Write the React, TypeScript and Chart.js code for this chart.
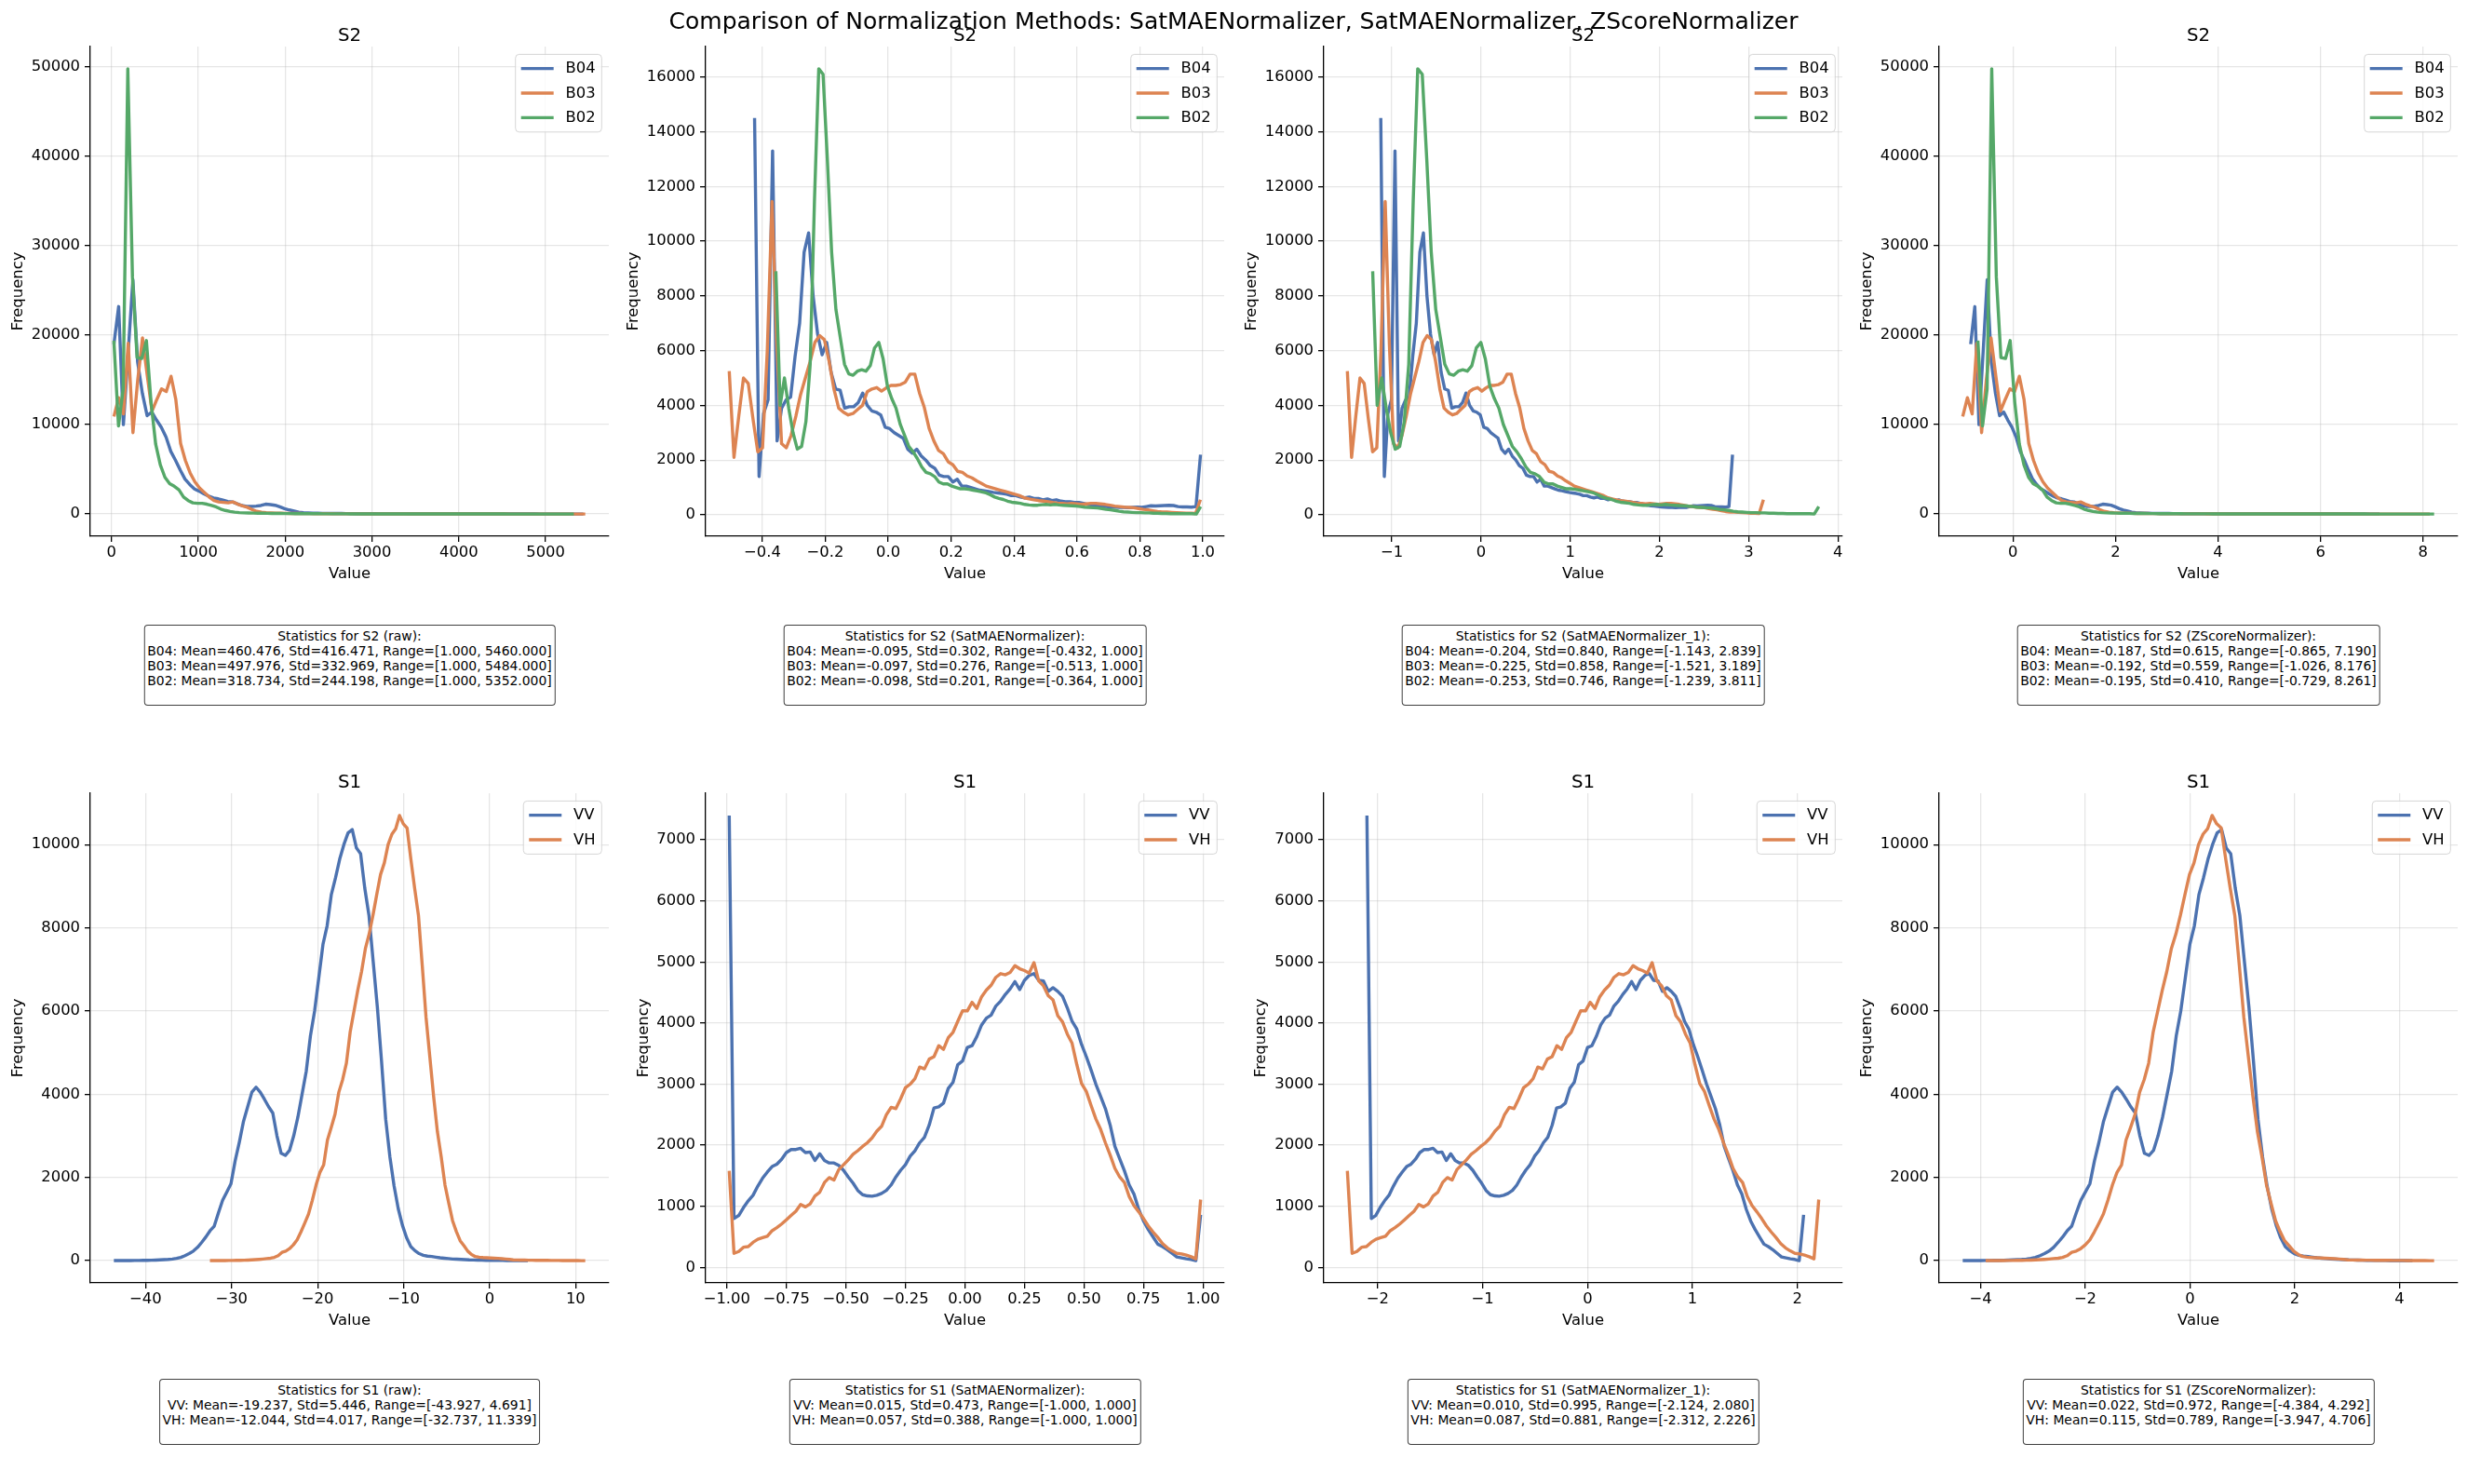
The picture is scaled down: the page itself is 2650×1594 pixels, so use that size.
import React, { useEffect, useRef } from 'react';
import { Chart, registerables } from 'chart.js';

Chart.register(...registerables);

const FONT = '"DejaVu Sans", "Noto Sans", sans-serif';
const BLUE = '#4C72B0';
const ORANGE = '#DD8452';
const GREEN = '#55A868';
const GRID = 'rgba(176,176,176,0.32)';

const SUPTITLE = 'Comparison of Normalization Methods: SatMAENormalizer, SatMAENormalizer, ZScoreNormalizer';

const S2_BANDS = ['B04', 'B03', 'B02'];
const S2_COLORS = [BLUE, ORANGE, GREEN];
const S1_BANDS = ['VV', 'VH'];
const S1_COLORS = [BLUE, ORANGE];

// ---- histogram counts (100 equal-width bins between each band's min and max) ----

// Sentinel-2, raw reflectance (the z-scored version shares these bins)
const S2_RAW_B04 = [
  19000, 23200, 10000, 18000, 26200, 17000, 13500, 11000, 11400, 10500,
  9700, 8600, 7000, 6000, 4900, 3900, 3300, 2800, 2550, 2250,
  2000, 1800, 1700, 1550, 1400, 1350, 1150, 950, 850, 850,
  880, 950, 1100, 1050, 980, 800, 600, 450, 330, 200,
  150, 120, 100, 90, 80, 72, 66, 60, 55, 50,
  46, 42, 39, 36, 33, 30, 28, 26, 24, 22,
  20, 19, 18, 17, 16, 15, 14, 13, 12, 11,
  10, 10, 9, 9, 8, 8, 7, 7, 6, 6,
  5, 5, 5, 4, 4, 4, 3, 3, 3, 3,
  2, 2, 2, 2, 2, 1, 1, 1, 1, 1,
];
const S2_RAW_B03 = [
  10900, 13000, 11200, 19100, 9100, 15000, 19700, 15500, 11500, 12800,
  14000, 13700, 15400, 12800, 7900, 6000, 4600, 3600, 2900, 2400,
  1900, 1500, 1350, 1300, 1250, 1350, 1100, 900, 750, 500,
  300, 200, 150, 120, 100, 90, 80, 70, 64, 58,
  52, 47, 43, 39, 35, 32, 29, 27, 25, 23,
  21, 19, 18, 17, 16, 15, 14, 13, 12, 11,
  10, 10, 9, 9, 8, 8, 7, 7, 6, 6,
  6, 5, 5, 5, 4, 4, 4, 4, 3, 3,
  3, 3, 3, 2, 2, 2, 2, 2, 2, 2,
  1, 1, 1, 1, 1, 1, 1, 1, 1, 1,
];
const S2_RAW_B02 = [
  19400, 9850, 14000, 49800, 26500, 17500, 17400, 19400, 12500, 7800,
  5500, 4100, 3400, 3100, 2700, 1900, 1500, 1250, 1200, 1200,
  1100, 950, 800, 550, 400, 280, 200, 150, 130, 110,
  100, 90, 82, 75, 68, 62, 57, 52, 48, 44,
  40, 37, 34, 31, 29, 27, 25, 23, 21, 20,
  19, 18, 17, 16, 15, 14, 13, 12, 11, 11,
  10, 10, 9, 9, 8, 8, 7, 7, 7, 6,
  6, 6, 5, 5, 5, 5, 4, 4, 4, 4,
  3, 3, 3, 3, 3, 2, 2, 2, 2, 2,
  2, 2, 1, 1, 1, 1, 1, 1, 1, 1,
];

// Sentinel-2, SatMAE-normalized (the _1 variant shares these bins)
const S2_SAT_B04 = [
  14500, 1400, 3700, 4200, 13300, 2700, 3900, 4200, 4300, 5800,
  7000, 9600, 10300, 8000, 6600, 5850, 6300, 5200, 4600, 4550,
  3900, 3950, 3950, 4100, 4450, 4000, 3800, 3750, 3650, 3200,
  3150, 3000, 2900, 2800, 2400, 2250, 2400, 2150, 2000, 1800,
  1700, 1450, 1400, 1400, 1200, 1300, 1050, 1050, 1000, 950,
  900, 880, 850, 820, 800, 780, 750, 700, 700, 650,
  620, 650, 600, 600, 550, 580, 520, 550, 500, 480,
  480, 450, 450, 420, 380, 350, 330, 320, 300, 290,
  280, 270, 270, 260, 270, 280, 270, 300, 330, 320,
  330, 340, 350, 340, 300, 290, 290, 280, 300, 2200,
];
const S2_SAT_B03 = [
  5250, 2100, 3600, 5000, 4800, 3500, 2300, 2450, 6000, 11450,
  6200, 2600, 2450, 2900, 3600, 4400, 5000, 5600, 6300, 6550,
  6400, 5600, 4600, 3900, 3750, 3650, 3700, 3850, 4000, 4500,
  4600, 4650, 4520, 4640, 4730, 4730, 4760, 4850, 5140, 5140,
  4440, 3920, 3160, 2700, 2350, 2230, 1940, 1830, 1590, 1550,
  1420, 1350, 1240, 1150, 1050, 1000, 950, 900, 850, 800,
  750, 700, 620, 580, 550, 520, 500, 480, 450, 430,
  420, 400, 420, 400, 380, 400, 420, 420, 400, 380,
  350, 320, 300, 280, 270, 260, 230, 200, 180, 150,
  120, 100, 100, 90, 80, 70, 60, 60, 50, 550,
];
const S2_SAT_B02 = [
  8900, 4000, 5000, 3900, 3000, 2400, 2500, 3400, 5500, 11500,
  16300, 16100, 13000, 9600, 7500, 6500, 5500, 5150, 5100, 5250,
  5300, 5250, 5450, 6100, 6300, 5700, 4700, 4250, 3900, 3300,
  2900, 2500, 2300, 2050, 1750, 1550, 1500, 1400, 1200, 1130,
  1130, 1050, 1000, 950, 950, 930, 900, 870, 840, 800,
  730, 650, 600, 560, 500, 460, 440, 420, 380, 360,
  350, 350, 370, 380, 360, 380, 360, 350, 340, 330,
  320, 300, 280, 270, 260, 250, 230, 200, 180, 160,
  130, 110, 100, 90, 80, 80, 70, 70, 60, 60,
  50, 50, 40, 40, 40, 40, 40, 40, 30, 300,
];

// Sentinel-1, raw backscatter in dB (the z-scored version shares these bins)
const S1_RAW_VV = [
  2, 2, 3, 3, 4, 5, 6, 8, 10, 12,
  15, 20, 25, 30, 40, 55, 80, 120, 170, 230,
  320, 440, 570, 720, 830, 1150, 1450, 1650, 1850, 2400,
  2850, 3350, 3700, 4050, 4170, 4050, 3880, 3700, 3550, 3000,
  2580, 2530, 2650, 3000, 3450, 4000, 4550, 5400, 6000, 6800,
  7600, 8050, 8800, 9200, 9650, 10000, 10280, 10360, 9920, 9780,
  8950, 8300, 7200, 6100, 4800, 3400, 2500, 1800, 1250, 850,
  550, 340, 240, 170, 130, 110, 100, 85, 70, 60,
  50, 40, 35, 30, 25, 20, 18, 15, 12, 10,
  8, 7, 6, 5, 4, 3, 3, 2, 2, 1,
];
const S1_RAW_VH = [
  2, 2, 3, 3, 4, 5, 6, 8, 10, 12,
  15, 20, 25, 32, 40, 50, 60, 80, 120, 200,
  230, 290, 380, 500, 690, 900, 1120, 1450, 1820, 2120,
  2300, 2900, 3200, 3520, 4050, 4350, 4750, 5500, 6000, 6500,
  6950, 7500, 7850, 8300, 8800, 9280, 9560, 10000, 10250, 10380,
  10700, 10500, 10400, 9650, 8950, 8300, 7100, 5850, 4900, 3950,
  3100, 2500, 1820, 1380, 960, 700, 480, 360, 230, 150,
  100, 85, 75, 70, 65, 60, 55, 48, 40, 30,
  20, 17, 15, 13, 12, 11, 10, 9, 8, 7,
  6, 5, 5, 4, 3, 3, 2, 2, 1, 1,
];

// Sentinel-1, SatMAE-normalized (the _1 variant shares these bins)
const S1_SAT_VV = [
  7400, 800, 850, 980, 1090, 1180, 1330, 1460, 1560, 1650,
  1690, 1770, 1880, 1930, 1930, 1950, 1880, 1890, 1750, 1860,
  1750, 1710, 1710, 1670, 1590, 1480, 1380, 1260, 1190, 1170,
  1165, 1180, 1210, 1260, 1350, 1480, 1590, 1680, 1820, 1910,
  2040, 2130, 2330, 2610, 2630, 2690, 2930, 3030, 3320, 3380,
  3600, 3630, 3780, 3970, 4080, 4130, 4280, 4360, 4470, 4560,
  4680, 4550, 4700, 4780, 4810, 4700, 4690, 4520, 4580, 4520,
  4440, 4250, 4030, 3900, 3650, 3450, 3230, 3000, 2800, 2600,
  2330, 1980, 1780, 1580, 1350, 1200, 950, 760, 620, 500,
  380, 340, 290, 230, 170, 155, 140, 130, 110, 860,
];
const S1_SAT_VH = [
  1580, 230, 260, 330, 340, 410, 460, 485, 510, 600,
  650, 710, 780, 850, 920, 1030, 990, 1040, 1170, 1230,
  1390, 1470, 1430, 1600, 1680, 1760, 1850, 1910, 1980, 2040,
  2120, 2230, 2310, 2500, 2620, 2600, 2760, 2940, 3000, 3090,
  3280, 3250, 3410, 3450, 3630, 3570, 3760, 3850, 4030, 4200,
  4200, 4340, 4240, 4430, 4540, 4620, 4750, 4810, 4790, 4830,
  4940, 4890, 4860, 4820, 4990, 4690, 4610, 4450, 4380, 4120,
  4020, 3820, 3670, 3320, 3010, 2880, 2650, 2430, 2260, 2040,
  1840, 1620, 1480, 1390, 1160, 1010, 910, 800, 680, 580,
  490, 390, 320, 270, 230, 220, 200, 175, 140, 1110,
];

// ---- per-band statistics: [mean, std, min, max] ----
const S2_RAW_STATS = [
  [460.476, 416.471, 1.0, 5460.0],
  [497.976, 332.969, 1.0, 5484.0],
  [318.734, 244.198, 1.0, 5352.0],
];
const S2_SAT_STATS = [
  [-0.095, 0.302, -0.432, 1.0],
  [-0.097, 0.276, -0.513, 1.0],
  [-0.098, 0.201, -0.364, 1.0],
];
const S2_SAT1_STATS = [
  [-0.204, 0.84, -1.143, 2.839],
  [-0.225, 0.858, -1.521, 3.189],
  [-0.253, 0.746, -1.239, 3.811],
];
const S2_Z_STATS = [
  [-0.187, 0.615, -0.865, 7.19],
  [-0.192, 0.559, -1.026, 8.176],
  [-0.195, 0.41, -0.729, 8.261],
];
const S1_RAW_STATS = [
  [-19.237, 5.446, -43.927, 4.691],
  [-12.044, 4.017, -32.737, 11.339],
];
const S1_SAT_STATS = [
  [0.015, 0.473, -1.0, 1.0],
  [0.057, 0.388, -1.0, 1.0],
];
const S1_SAT1_STATS = [
  [0.01, 0.995, -2.124, 2.08],
  [0.087, 0.881, -2.312, 2.226],
];
const S1_Z_STATS = [
  [0.022, 0.972, -4.384, 4.292],
  [0.115, 0.789, -3.947, 4.706],
];

// ---- tick labels ----
const S2_RAW_XTICKS = ['0', '1000', '2000', '3000', '4000', '5000'];
const S2_SAT_XTICKS = ['\u22120.4', '\u22120.2', '0.0', '0.2', '0.4', '0.6', '0.8', '1.0'];
const S2_SAT1_XTICKS = ['\u22121', '0', '1', '2', '3', '4'];
const S2_Z_XTICKS = ['0', '2', '4', '6', '8'];
const S2_RAW_YTICKS = ['0', '10000', '20000', '30000', '40000', '50000'];
const S2_SAT_YTICKS = ['0', '2000', '4000', '6000', '8000', '10000', '12000', '14000', '16000'];
const S1_RAW_XTICKS = ['\u221240', '\u221230', '\u221220', '\u221210', '0', '10'];
const S1_SAT_XTICKS = ['\u22121.00', '\u22120.75', '\u22120.50', '\u22120.25', '0.00', '0.25', '0.50', '0.75', '1.00'];
const S1_SAT1_XTICKS = ['\u22122', '\u22121', '0', '1', '2'];
const S1_Z_XTICKS = ['\u22124', '\u22122', '0', '2', '4'];
const S1_RAW_YTICKS = ['0', '2000', '4000', '6000', '8000', '10000'];
const S1_SAT_YTICKS = ['0', '1000', '2000', '3000', '4000', '5000', '6000', '7000'];

// ---- layout (pixels) ----
const FIG_W = 2650;
const FIG_H = 1594;
const AX_LEFT = [97, 758, 1422, 2083];
const AX_W = 557;
const AX_TOP = [50, 852];
const AX_H = 526;
const YLABEL_GAP = [
  [77, 77, 77, 77],
  [77, 66, 67, 77],
];
const STATS_TOP = [671, 1481];
const PAD_T = 40;
const PAD_R = 12;
const X_AXIS_H = 51;
const TICK_SIZE = 16.4;
const TITLE_SIZE = 19.8;

type PanelDef = {
  row: number;
  col: number;
  sensor: string;
  method: string;
  bands: string[];
  colors: string[];
  counts: number[][];
  stats: number[][];
  xTicks: string[];
  yTicks: string[];
};

const PANELS: PanelDef[] = [
  { row: 0, col: 0, sensor: 'S2', method: 'raw', bands: S2_BANDS, colors: S2_COLORS,
    counts: [S2_RAW_B04, S2_RAW_B03, S2_RAW_B02], stats: S2_RAW_STATS, xTicks: S2_RAW_XTICKS, yTicks: S2_RAW_YTICKS },
  { row: 0, col: 1, sensor: 'S2', method: 'SatMAENormalizer', bands: S2_BANDS, colors: S2_COLORS,
    counts: [S2_SAT_B04, S2_SAT_B03, S2_SAT_B02], stats: S2_SAT_STATS, xTicks: S2_SAT_XTICKS, yTicks: S2_SAT_YTICKS },
  { row: 0, col: 2, sensor: 'S2', method: 'SatMAENormalizer_1', bands: S2_BANDS, colors: S2_COLORS,
    counts: [S2_SAT_B04, S2_SAT_B03, S2_SAT_B02], stats: S2_SAT1_STATS, xTicks: S2_SAT1_XTICKS, yTicks: S2_SAT_YTICKS },
  { row: 0, col: 3, sensor: 'S2', method: 'ZScoreNormalizer', bands: S2_BANDS, colors: S2_COLORS,
    counts: [S2_RAW_B04, S2_RAW_B03, S2_RAW_B02], stats: S2_Z_STATS, xTicks: S2_Z_XTICKS, yTicks: S2_RAW_YTICKS },
  { row: 1, col: 0, sensor: 'S1', method: 'raw', bands: S1_BANDS, colors: S1_COLORS,
    counts: [S1_RAW_VV, S1_RAW_VH], stats: S1_RAW_STATS, xTicks: S1_RAW_XTICKS, yTicks: S1_RAW_YTICKS },
  { row: 1, col: 1, sensor: 'S1', method: 'SatMAENormalizer', bands: S1_BANDS, colors: S1_COLORS,
    counts: [S1_SAT_VV, S1_SAT_VH], stats: S1_SAT_STATS, xTicks: S1_SAT_XTICKS, yTicks: S1_SAT_YTICKS },
  { row: 1, col: 2, sensor: 'S1', method: 'SatMAENormalizer_1', bands: S1_BANDS, colors: S1_COLORS,
    counts: [S1_SAT_VV, S1_SAT_VH], stats: S1_SAT1_STATS, xTicks: S1_SAT1_XTICKS, yTicks: S1_SAT_YTICKS },
  { row: 1, col: 3, sensor: 'S1', method: 'ZScoreNormalizer', bands: S1_BANDS, colors: S1_COLORS,
    counts: [S1_RAW_VV, S1_RAW_VH], stats: S1_Z_STATS, xTicks: S1_Z_XTICKS, yTicks: S1_RAW_YTICKS },
];

const tickValue = (s: string) => parseFloat(s.replace('\u2212', '-'));

// Draws the panel title and an in-axes legend in the upper right corner.
const panelDecor = {
  id: 'panelDecor',
  afterDraw(chart: any, _args: any, opts: any) {
    const { ctx, chartArea } = chart;
    ctx.save();
    ctx.fillStyle = '#000';
    ctx.font = `${TITLE_SIZE}px ${FONT}`;
    ctx.textAlign = 'center';
    ctx.textBaseline = 'alphabetic';
    ctx.fillText(opts.title, (chartArea.left + chartArea.right) / 2, chartArea.top - 6);

    const items: { name: string; color: string }[] = opts.items;
    ctx.font = `${TICK_SIZE}px ${FONT}`;
    const textW = Math.max(...items.map((it) => ctx.measureText(it.name).width));
    const boxW = 6 + 35 + 12.8 + textW + 6.7;
    const boxH = 30.6 + (items.length - 1) * 26.4;
    const x0 = chartArea.right - 7.7 - boxW;
    const y0 = chartArea.top + 8.4;
    ctx.beginPath();
    ctx.roundRect(x0, y0, boxW, boxH, 4);
    ctx.fillStyle = 'rgba(255,255,255,0.8)';
    ctx.fill();
    ctx.lineWidth = 1;
    ctx.strokeStyle = 'rgba(204,204,204,0.8)';
    ctx.stroke();
    items.forEach((it, i) => {
      const cy = y0 + 15.2 + i * 26.4;
      ctx.beginPath();
      ctx.moveTo(x0 + 6, cy);
      ctx.lineTo(x0 + 41, cy);
      ctx.strokeStyle = it.color;
      ctx.lineWidth = 3.4;
      ctx.stroke();
      ctx.fillStyle = '#000';
      ctx.textAlign = 'left';
      ctx.textBaseline = 'middle';
      ctx.fillText(it.name, x0 + 53.8, cy + 0.5);
    });
    ctx.restore();
  },
};

function buildConfig(p: PanelDef, yAxisW: number): any {
  let xMin = Infinity;
  let xMax = -Infinity;
  let yMin = Infinity;
  let yMax = -Infinity;
  const datasets = p.counts.map((counts, k) => {
    const lo = p.stats[k][2];
    const hi = p.stats[k][3];
    const w = (hi - lo) / counts.length;
    const data = counts.map((c, i) => ({ x: lo + (i + 0.5) * w, y: c }));
    data.forEach((d) => {
      xMin = Math.min(xMin, d.x);
      xMax = Math.max(xMax, d.x);
      yMin = Math.min(yMin, d.y);
      yMax = Math.max(yMax, d.y);
    });
    return {
      label: p.bands[k],
      data,
      borderColor: p.colors[k],
      backgroundColor: p.colors[k],
      borderWidth: 3.4,
      borderJoinStyle: 'round',
      borderCapStyle: 'butt',
      pointRadius: 0,
      pointHoverRadius: 0,
      tension: 0,
      fill: false,
      order: p.counts.length - k,
    };
  });
  const xPad = 0.05 * (xMax - xMin);
  const yPad = 0.05 * (yMax - yMin);
  const xVals = p.xTicks.map(tickValue);
  const yVals = p.yTicks.map(tickValue);
  const tickFont = { family: FONT, size: TICK_SIZE, lineHeight: 1.2 };
  const gridOpts = {
    display: true,
    color: GRID,
    lineWidth: 1.3,
    drawTicks: true,
    tickLength: 6,
    tickColor: '#000',
    tickWidth: 1.3,
  };

  return {
    type: 'line',
    data: { datasets },
    options: {
      animation: false,
      responsive: false,
      maintainAspectRatio: false,
      devicePixelRatio: 1,
      events: [],
      layout: { padding: { top: PAD_T, right: PAD_R, left: 0, bottom: 0 } },
      plugins: {
        legend: { display: false },
        title: { display: false },
        tooltip: { enabled: false },
        panelDecor: {
          title: p.sensor,
          items: p.bands.map((b, i) => ({ name: b, color: p.colors[i] })),
        },
      },
      scales: {
        x: {
          type: 'linear',
          position: 'bottom',
          bounds: 'data',
          min: xMin - xPad,
          max: xMax + xPad,
          afterBuildTicks: (s: any) => {
            s.ticks = xVals.map((v) => ({ value: v }));
          },
          afterFit: (s: any) => {
            s.height = X_AXIS_H;
            s.paddingLeft = 0;
            s.paddingRight = 0;
          },
          ticks: {
            autoSkip: false,
            maxRotation: 0,
            minRotation: 0,
            padding: 2,
            color: '#000',
            font: tickFont,
            callback: (_v: any, i: number) => p.xTicks[i],
          },
          grid: gridOpts,
          border: { display: true, color: '#000', width: 1.3 },
          title: {
            display: true,
            text: 'Value',
            color: '#000',
            font: { family: FONT, size: TICK_SIZE, lineHeight: 1.2 },
            padding: { top: 0, bottom: 0 },
          },
        },
        y: {
          type: 'linear',
          position: 'left',
          bounds: 'data',
          min: yMin - yPad,
          max: yMax + yPad,
          afterBuildTicks: (s: any) => {
            s.ticks = yVals.map((v) => ({ value: v }));
          },
          afterFit: (s: any) => {
            s.width = yAxisW;
            s.paddingTop = 0;
            s.paddingBottom = 0;
          },
          ticks: {
            autoSkip: false,
            padding: 5,
            color: '#000',
            font: tickFont,
            callback: (_v: any, i: number) => p.yTicks[i],
          },
          grid: gridOpts,
          border: { display: true, color: '#000', width: 1.3 },
          title: {
            display: true,
            text: 'Frequency',
            color: '#000',
            font: { family: FONT, size: TICK_SIZE, lineHeight: 1.2 },
            padding: { top: 0, bottom: 0 },
          },
        },
      },
    },
    plugins: [panelDecor],
  };
}

function Panel({ p }: { p: PanelDef }) {
  const ref = useRef<HTMLCanvasElement>(null);
  const yAxisW = Math.round(YLABEL_GAP[p.row][p.col] + TICK_SIZE * 0.6);
  const left = AX_LEFT[p.col] - yAxisW;
  const top = AX_TOP[p.row] - PAD_T;
  const width = yAxisW + AX_W + PAD_R;
  const height = PAD_T + AX_H + X_AXIS_H;

  useEffect(() => {
    const chart = new Chart(ref.current as HTMLCanvasElement, buildConfig(p, yAxisW));
    return () => chart.destroy();
  }, []);

  return (
    <canvas
      ref={ref}
      width={width}
      height={height}
      style={{ position: 'absolute', left, top, width, height }}
    />
  );
}

function StatsBox({ p }: { p: PanelDef }) {
  const fmt = (v: number) => v.toFixed(3);
  const lines = [
    `Statistics for ${p.sensor} (${p.method}):`,
    ...p.bands.map((b, i) => {
      const [m, s, lo, hi] = p.stats[i];
      return `${b}: Mean=${fmt(m)}, Std=${fmt(s)}, Range=[${fmt(lo)}, ${fmt(hi)}]`;
    }),
  ];
  return (
    <div
      style={{
        position: 'absolute',
        left: AX_LEFT[p.col] + AX_W / 2,
        top: STATS_TOP[p.row],
        transform: 'translateX(-50%)',
        padding: '3px 3px 18px 3px',
        border: '1px solid rgba(0,0,0,0.75)',
        borderRadius: 4,
        background: '#fff',
        fontFamily: FONT,
        fontSize: 13.9,
        lineHeight: '16px',
        textAlign: 'center',
        whiteSpace: 'pre',
        color: '#000',
      }}
    >
      {lines.join('\n')}
    </div>
  );
}

export default function App() {
  return (
    <div
      style={{
        position: 'absolute',
        left: 0,
        top: 0,
        width: FIG_W,
        height: FIG_H,
        background: '#fff',
        overflow: 'hidden',
      }}
    >
      {PANELS.map((p) => (
        <Panel key={`c${p.row}${p.col}`} p={p} />
      ))}
      {PANELS.map((p) => (
        <StatsBox key={`s${p.row}${p.col}`} p={p} />
      ))}
      <div
        style={{
          position: 'absolute',
          left: 0,
          width: FIG_W,
          top: 10,
          textAlign: 'center',
          fontFamily: FONT,
          fontSize: 25,
          lineHeight: '25px',
          color: '#000',
          whiteSpace: 'nowrap',
        }}
      >
        {SUPTITLE}
      </div>
    </div>
  );
}
